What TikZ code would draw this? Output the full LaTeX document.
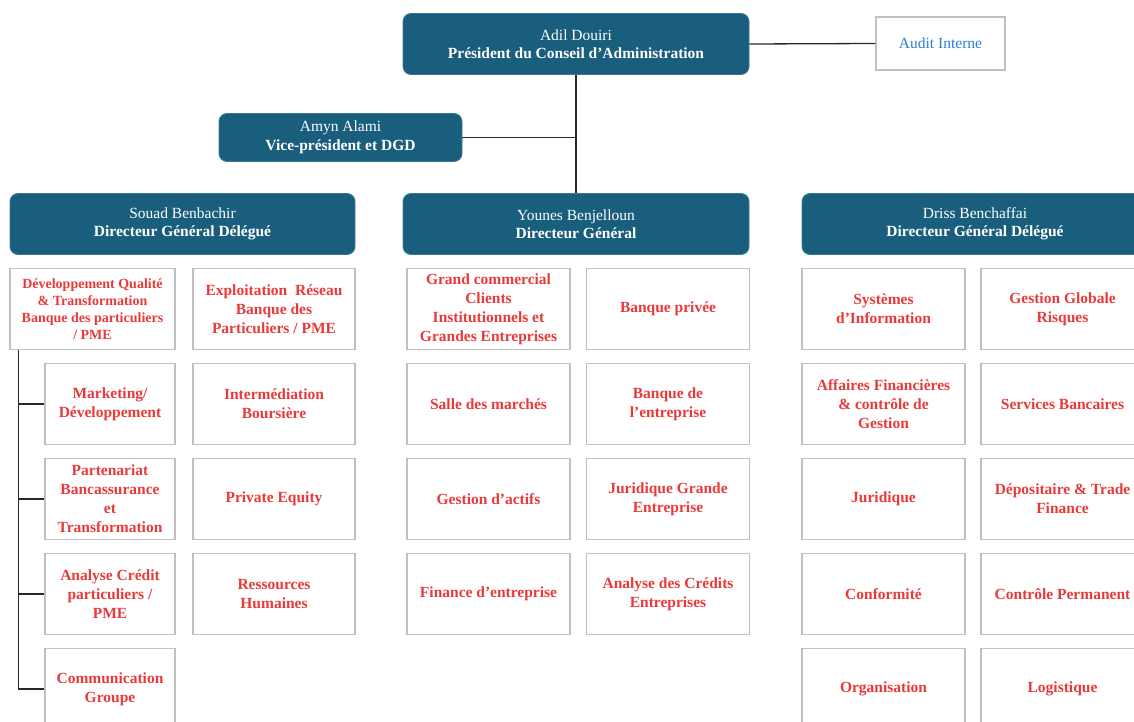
\documentclass[tikz,border=0pt]{standalone}
\usepackage{fontspec}
\setmainfont{Liberation Serif}
\definecolor{headblue}{RGB}{26,94,125}
\definecolor{headedge}{RGB}{60,120,150}
\definecolor{unitred}{RGB}{232,58,58}
\definecolor{boxgrey}{RGB}{192,192,192}
\definecolor{auditblue}{RGB}{40,128,210}
\definecolor{linegrey}{RGB}{40,40,40}
\begin{document}
\begin{tikzpicture}[x=1pt,y=-1pt,
  head/.style={fill=headblue, draw=headedge, line width=0.8pt, rounded corners=8pt, text=white,
    font=\fontsize{15.5}{18.5}\selectfont, align=center, inner sep=0pt},
  unit/.style={draw=boxgrey, line width=1.5pt, fill=white, text=unitred,
    font=\fontsize{15.5}{19}\selectfont\bfseries, align=center,
    minimum width=163pt, minimum height=81pt, inner sep=0pt},
  conn/.style={draw=linegrey, line width=1.3pt}]
\useasboundingbox (0,0) rectangle (1134,722);
\clip (0,0) rectangle (1134,722);
\fill[white] (0,0) rectangle (1134,722);

% top level
\node[head, minimum width=346pt, minimum height=61pt] (adil) at (576,44)
  {Adil Douiri\\\textbf{Président du Conseil d’Administration}};
\node[draw=boxgrey, line width=1.2pt, fill=white, text=auditblue, font=\fontsize{15.5}{18}\selectfont,
  minimum width=129pt, minimum height=53pt, inner sep=0pt] (audit) at (940.5,43.5) {Audit Interne};
\node[head, minimum width=243pt, minimum height=48pt] (amyn) at (340.5,137.5)
  {Amyn Alami\\\textbf{Vice-président et DGD}};

\node[head, minimum width=345pt, minimum height=61pt] (souad) at (182.5,224)
  {Souad Benbachir\\\textbf{Directeur Général Délégué}};
\node[head, minimum width=346pt, minimum height=61pt] (younes) at (576,224)
  {Younes Benjelloun\\\textbf{Directeur Général}};
\node[head, minimum width=346pt, minimum height=61pt] (driss) at (975,224)
  {Driss Benchaffai\\\textbf{Directeur Général Délégué}};

% connectors top
\draw[conn] (adil.east) -- (audit.west);
\draw[conn] (adil.south) -- (younes.north);
\draw[conn] (amyn.east) -- (amyn.east -| adil.south);

% Souad column
\node[unit, minimum width=165pt, font=\fontsize{14}{17}\selectfont\bfseries] (dev) at (92.5,309)
  {Développement Qualité\\\& Transformation\\Banque des particuliers\\/ PME};
\node[unit, minimum width=162pt] (expl) at (274,309) {Exploitation\ \ Réseau\\Banque des\\Particuliers / PME};
\node[unit, minimum width=130pt] (mkt) at (110,404) {Marketing/\\Développement};
\node[unit, minimum width=162pt] (inter) at (274,404) {Intermédiation\\Boursière};
\node[unit, minimum width=130pt] (part) at (110,499) {Partenariat\\Bancassurance\\et\\Transformation};
\node[unit, minimum width=162pt] (pe) at (274,499) {Private Equity};
\node[unit, minimum width=130pt] (acp) at (110,594) {Analyse Crédit\\particuliers /\\PME};
\node[unit, minimum width=162pt] (rh) at (274,594) {Ressources\\Humaines};
\node[unit, minimum width=130pt] (comm) at (110,689) {Communication\\Groupe};

\draw[conn] ([xshift=9pt]dev.south west) |- (mkt.west);
\draw[conn] ([xshift=9pt]dev.south west) |- (part.west);
\draw[conn] ([xshift=9pt]dev.south west) |- (acp.west);
\draw[conn] ([xshift=9pt]dev.south west) |- (comm.west);

% Younes column
\node[unit] (gc) at (488.5,309) {Grand commercial\\Clients\\Institutionnels et\\Grandes Entreprises};
\node[unit] (bp) at (668,309) {Banque privée};
\node[unit] (sdm) at (488.5,404) {Salle des marchés};
\node[unit] (bde) at (668,404) {Banque de\\l’entreprise};
\node[unit] (ga) at (488.5,499) {Gestion d’actifs};
\node[unit] (jge) at (668,499) {Juridique Grande\\Entreprise};
\node[unit] (fe) at (488.5,594) {Finance d’entreprise};
\node[unit] (ace) at (668,594) {Analyse des Crédits\\Entreprises};

% Driss column
\node[unit] (si) at (883.5,309) {Systèmes\\d’Information};
\node[unit] (ggr) at (1062.5,309) {Gestion Globale\\Risques};
\node[unit] (af) at (883.5,404) {Affaires Financières\\\& contrôle de\\Gestion};
\node[unit] (sb) at (1062.5,404) {Services Bancaires};
\node[unit] (jur) at (883.5,499) {Juridique};
\node[unit] (dtf) at (1062.5,499) {Dépositaire \& Trade\\Finance};
\node[unit] (conf) at (883.5,594) {Conformité};
\node[unit] (cp) at (1062.5,594) {Contrôle Permanent};
\node[unit] (org) at (883.5,689) {Organisation};
\node[unit] (log) at (1062.5,689) {Logistique};
\end{tikzpicture}
\end{document}
